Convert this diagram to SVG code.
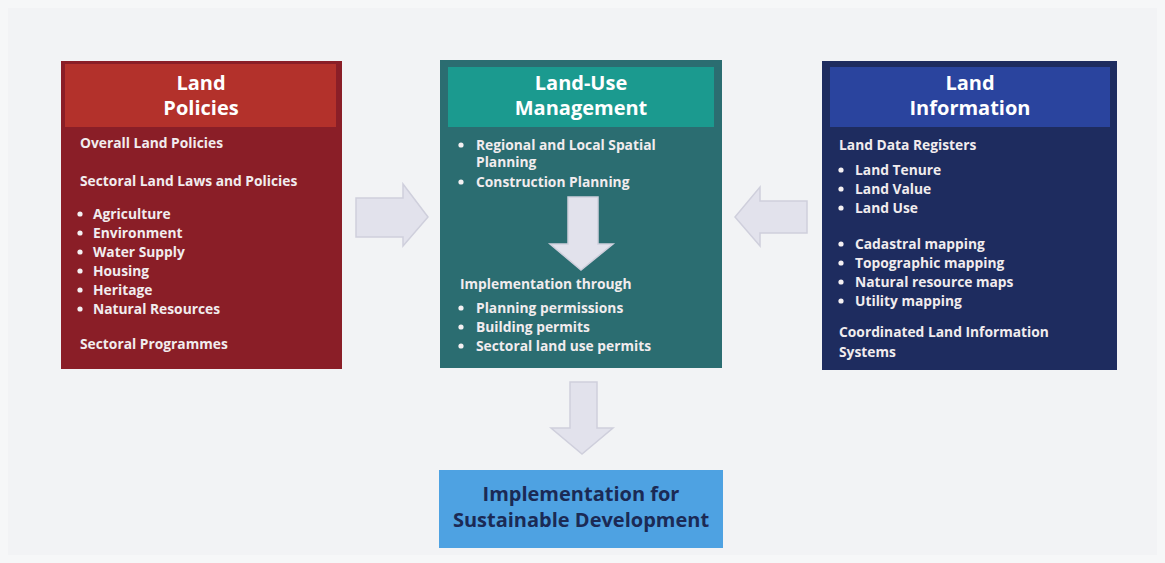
<svg xmlns="http://www.w3.org/2000/svg" width="1165" height="563" viewBox="0 0 1165 563">
<style>
.title{font-family:"Open Sans","Noto Sans",sans-serif;font-weight:bold;font-size:20px;fill:#ffffff;text-anchor:middle}
.body{font-family:"Open Sans","Noto Sans",sans-serif;font-weight:bold;font-size:13.8px;fill:#f1ecee}
.bot{font-family:"Open Sans","Noto Sans",sans-serif;font-weight:bold;font-size:20px;fill:#1b2a55;text-anchor:middle}
.arrow{fill:#e2e2ec;stroke:#cfcfdc;stroke-width:1.5}
.dot{fill:#f4f0f2}
</style>
<rect x="0" y="0" width="1165" height="563" fill="#f6f7f8"/>
<rect x="8" y="8" width="1149" height="547" fill="#f2f3f5"/>

<g id="land-policies">
<rect x="61" y="61" width="281" height="308" fill="#8a1e27"/>
<rect x="65" y="64" width="271" height="63" fill="#b3312b"/>
<text class="title" x="201" y="90">Land</text>
<text class="title" x="201" y="115">Policies</text>
<text class="body" x="80" y="148">Overall Land Policies</text>
<text class="body" x="80" y="186">Sectoral Land Laws and Policies</text>
<g class="dot">
<circle cx="80" cy="214" r="2.6"/><circle cx="80" cy="233" r="2.6"/><circle cx="80" cy="252" r="2.6"/>
<circle cx="80" cy="271" r="2.6"/><circle cx="80" cy="290" r="2.6"/><circle cx="80" cy="309" r="2.6"/>
</g>
<text class="body" x="93" y="219">Agriculture</text>
<text class="body" x="93" y="238">Environment</text>
<text class="body" x="93" y="257">Water Supply</text>
<text class="body" x="93" y="276">Housing</text>
<text class="body" x="93" y="295">Heritage</text>
<text class="body" x="93" y="314">Natural Resources</text>
<text class="body" x="80" y="349">Sectoral Programmes</text>
</g>

<g id="land-use-management">
<rect x="440" y="60" width="282" height="308" fill="#2b6d71"/>
<rect x="448" y="67" width="266" height="60" fill="#1b9a8f"/>
<text class="title" x="581" y="90">Land-Use</text>
<text class="title" x="581" y="115">Management</text>
<g class="dot">
<circle cx="461" cy="145" r="2.6"/><circle cx="461" cy="182" r="2.6"/>
<circle cx="461" cy="308" r="2.6"/><circle cx="461" cy="327" r="2.6"/><circle cx="461" cy="346" r="2.6"/>
</g>
<text class="body" x="476" y="150">Regional and Local Spatial</text>
<text class="body" x="476" y="167">Planning</text>
<text class="body" x="476" y="187">Construction Planning</text>
<text class="body" x="460" y="289">Implementation through</text>
<text class="body" x="476" y="313">Planning permissions</text>
<text class="body" x="476" y="332">Building permits</text>
<text class="body" x="476" y="351">Sectoral land use permits</text>
</g>

<g id="land-information">
<rect x="822" y="61" width="295" height="309" fill="#1e2c5f"/>
<rect x="830" y="67" width="280" height="60" fill="#2a449e"/>
<text class="title" x="970" y="90">Land</text>
<text class="title" x="970" y="115">Information</text>
<text class="body" x="839" y="150">Land Data Registers</text>
<g class="dot">
<circle cx="841" cy="170" r="2.6"/><circle cx="841" cy="189" r="2.6"/><circle cx="841" cy="208" r="2.6"/>
<circle cx="841" cy="244" r="2.6"/><circle cx="841" cy="263" r="2.6"/><circle cx="841" cy="282" r="2.6"/><circle cx="841" cy="301" r="2.6"/>
</g>
<text class="body" x="855" y="175">Land Tenure</text>
<text class="body" x="855" y="194">Land Value</text>
<text class="body" x="855" y="213">Land Use</text>
<text class="body" x="855" y="249">Cadastral mapping</text>
<text class="body" x="855" y="268">Topographic mapping</text>
<text class="body" x="855" y="287">Natural resource maps</text>
<text class="body" x="855" y="306">Utility mapping</text>
<text class="body" x="839" y="337">Coordinated Land Information</text>
<text class="body" x="839" y="357">Systems</text>
</g>

<g id="sustainable-development">
<rect x="439" y="470" width="284" height="78" fill="#4ea2e2"/>
<text class="bot" x="581" y="501">Implementation for</text>
<text class="bot" x="581" y="527">Sustainable Development</text>
</g>

<g id="connectors">
<path class="arrow" d="M356,198 H403 V184 L428,217 L403,246 V237 H356 Z"/>
<path class="arrow" d="M807,201 H760 V187 L735,217 L760,246 V233 H807 Z"/>
<path class="arrow" d="M568,197 H598 V244 H613 L581,270 L550,244 H568 Z"/>
<path class="arrow" d="M570,382 H597 V428 H613 L582,454 L551,428 H570 Z"/>
</g>
</svg>
